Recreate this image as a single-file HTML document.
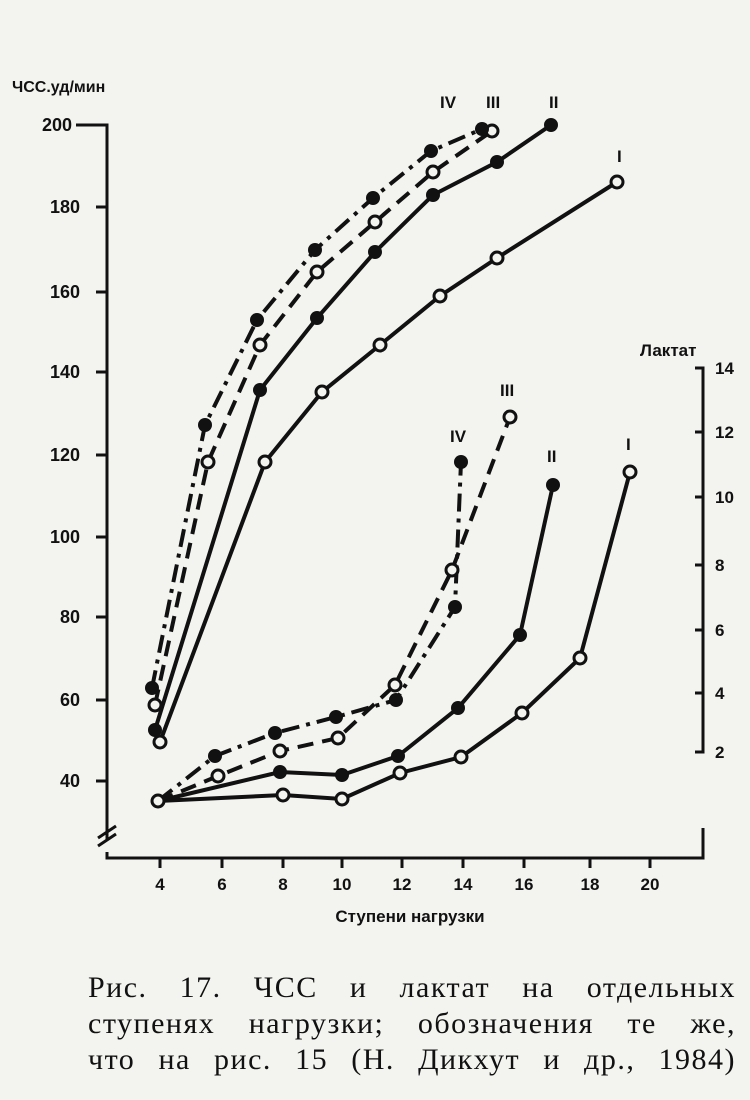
<!DOCTYPE html>
<html><head><meta charset="utf-8"><style>
body{margin:0;background:#f3f3ef;position:relative;width:750px;height:1100px;overflow:hidden}
svg{display:block;position:absolute;left:0;top:0}
.cap{position:absolute;left:88px;width:648px;font-family:"Liberation Serif","DejaVu Serif",serif;font-size:30px;letter-spacing:1.5px;color:#111;line-height:36px}
.cap div{text-align:justify;text-align-last:justify;white-space:normal}
</style></head><body>
<svg width="750" height="1100" viewBox="0 0 750 1100" xmlns="http://www.w3.org/2000/svg">
<rect width="750" height="1100" fill="#f3f3ef"/>
<g font-family="Liberation Sans, DejaVu Sans, sans-serif" fill="#111" font-weight="bold" font-size="17">
<text x="12" y="92" font-size="16">ЧСС.уд/мин</text>
<g text-anchor="end" font-size="18">
<text x="72" y="131">200</text><text x="80" y="213">180</text><text x="80" y="298">160</text>
<text x="80" y="378">140</text><text x="80" y="461">120</text><text x="80" y="543">100</text>
<text x="80" y="623">80</text><text x="80" y="706">60</text><text x="80" y="787">40</text>
</g>
<g text-anchor="middle">
<text x="160" y="890">4</text><text x="222" y="890">6</text><text x="283" y="890">8</text>
<text x="342" y="890">10</text><text x="402" y="890">12</text><text x="463" y="890">14</text>
<text x="524" y="890">16</text><text x="590" y="890">18</text><text x="650" y="890">20</text>
<text x="410" y="922" font-size="17">Ступени нагрузки</text>
</g>
<text x="640" y="356">Лактат</text>
<g>
<text x="715" y="374">14</text><text x="715" y="438">12</text><text x="715" y="503">10</text>
<text x="715" y="571">8</text><text x="715" y="636">6</text><text x="715" y="699">4</text><text x="715" y="758">2</text>
</g>
<text x="440" y="108">IV</text><text x="486" y="108">III</text><text x="549" y="108">II</text><text x="617" y="162">I</text>
<text x="450" y="442">IV</text><text x="500" y="396">III</text><text x="547" y="462">II</text><text x="626" y="450">I</text>
</g>
<g stroke="#111" stroke-width="3" fill="none">
<path d="M76 125H107V840M107 852V858H703V828"/>
<path d="M98 838L116 826M98 846L116 834"/>
<path d="M107 207H96M107 292H96M107 372H96M107 455H96M107 537H96M107 617H96M107 700H96M107 781H96"/>
<path d="M160 858v10M222 858v10M283 858v10M342 858v10M402 858v10M463 858v10M524 858v10M590 858v10M650 858v10"/>
<path d="M695 368H703V752H695M703 432H695M703 497H695M703 565H695M703 630H695M703 693H695"/>
</g>
<g fill="none" stroke="#111" stroke-width="4">
<polyline points="160,742 265,462 322,392 380,345 440,296 497,258 617,182"/>
<polyline points="155,730 260,390 317,318 375,252 433,195 497,162 551,125"/>
<polyline stroke-dasharray="16,9" points="155,705 208,462 260,345 317,272 375,222 433,172 492,131"/>
<polyline stroke-dasharray="18,7,4,7" points="152,688 205,425 257,320 315,250 373,198 431,151 482,129"/>
<polyline points="158,801 283,795 342,799 400,773 461,757 522,713 580,658 630,472"/>
<polyline points="158,801 280,772 342,775 398,756 458,708 520,635 553,485"/>
<polyline stroke-dasharray="16,9" points="158,801 218,776 280,751 338,738 395,685 452,570 510,417"/>
<polyline stroke-dasharray="18,7,4,7" points="158,801 215,756 275,733 336,717 396,700 455,607 461,462"/>
</g>
<g stroke="#111" stroke-width="3" fill="#f3f3ef">
<circle cx="160" cy="742" r="6"/><circle cx="265" cy="462" r="6"/><circle cx="322" cy="392" r="6"/><circle cx="380" cy="345" r="6"/><circle cx="440" cy="296" r="6"/><circle cx="497" cy="258" r="6"/><circle cx="617" cy="182" r="6"/>
<circle cx="155" cy="705" r="6"/><circle cx="208" cy="462" r="6"/><circle cx="260" cy="345" r="6"/><circle cx="317" cy="272" r="6"/><circle cx="375" cy="222" r="6"/><circle cx="433" cy="172" r="6"/><circle cx="492" cy="131" r="6"/>
<circle cx="158" cy="801" r="6"/><circle cx="283" cy="795" r="6"/><circle cx="342" cy="799" r="6"/><circle cx="400" cy="773" r="6"/><circle cx="461" cy="757" r="6"/><circle cx="522" cy="713" r="6"/><circle cx="580" cy="658" r="6"/><circle cx="630" cy="472" r="6"/>
<circle cx="218" cy="776" r="6"/><circle cx="280" cy="751" r="6"/><circle cx="338" cy="738" r="6"/><circle cx="395" cy="685" r="6"/><circle cx="452" cy="570" r="6"/><circle cx="510" cy="417" r="6"/>
</g>
<g fill="#111">
<circle cx="155" cy="730" r="7"/><circle cx="260" cy="390" r="7"/><circle cx="317" cy="318" r="7"/><circle cx="375" cy="252" r="7"/><circle cx="433" cy="195" r="7"/><circle cx="497" cy="162" r="7"/><circle cx="551" cy="125" r="7"/>
<circle cx="152" cy="688" r="7"/><circle cx="205" cy="425" r="7"/><circle cx="257" cy="320" r="7"/><circle cx="315" cy="250" r="7"/><circle cx="373" cy="198" r="7"/><circle cx="431" cy="151" r="7"/><circle cx="482" cy="129" r="7"/>
<circle cx="280" cy="772" r="7"/><circle cx="342" cy="775" r="7"/><circle cx="398" cy="756" r="7"/><circle cx="458" cy="708" r="7"/><circle cx="520" cy="635" r="7"/><circle cx="553" cy="485" r="7"/>
<circle cx="215" cy="756" r="7"/><circle cx="275" cy="733" r="7"/><circle cx="336" cy="717" r="7"/><circle cx="396" cy="700" r="7"/><circle cx="455" cy="607" r="7"/><circle cx="461" cy="462" r="7"/>
</g>
</svg>
<div class="cap" style="top:970px">
<div>Рис. 17. ЧСС и лактат на отдельных</div>
<div>ступенях нагрузки; обозначения те же,</div>
<div>что на рис. 15 (Н. Дикхут и др., 1984)</div>
</div>
</body></html>
